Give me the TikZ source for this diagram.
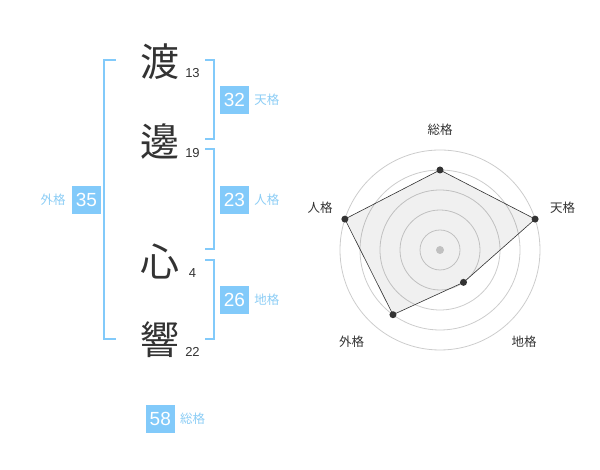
\documentclass[tikz,border=0pt]{standalone}
\usepackage{fontspec}
\setmainfont{Liberation Sans}
\newfontfamily\jpfont{Noto Sans CJK JP}
\usepackage{tikz}
\usetikzlibrary{positioning}
\definecolor{KakuBlue}{RGB}{130,202,250}
\definecolor{KakuText}{RGB}{140,205,245}
\definecolor{ChartInk}{RGB}{51,51,51}
\definecolor{RingGray}{RGB}{204,204,204}
\def\BoxW{29pt}
\def\BoxH{28pt}
\def\RingStep{20}

\begin{document}
\begin{tikzpicture}[x=1pt,y=1pt,
		kanji/.style={font=\jpfont\fontsize{39}{39}\selectfont,text=ChartInk,inner sep=0pt},
		strokes/.style={font=\fontsize{13}{13}\selectfont,text=ChartInk,inner sep=0pt},
		kakubox/.style={fill=KakuBlue,text=white,minimum width=\BoxW,minimum height=\BoxH,inner sep=0pt,font=\fontsize{19}{19}\selectfont},
		kakuname/.style={font=\jpfont\fontsize{12.5}{12.5}\selectfont,text=KakuText,inner sep=0pt},
		bracket/.style={draw=KakuBlue,line width=2pt},
		ring/.style={draw=RingGray,line width=0.8pt},
		axisname/.style={font=\jpfont\fontsize{12.5}{12.5}\selectfont,text=ChartInk,inner sep=0pt},
		vertexdot/.style={circle,fill=ChartInk,inner sep=0pt,minimum size=7pt}]
	\useasboundingbox (0,0) rectangle (600,470);
	% name column
	\node[kanji] (w1) at (160,408) {渡};
	\node[kanji] (w2) at (160,328) {邊};
	\node[kanji] (w3) at (160,208) {心};
	\node[kanji] (w4) at (160,130) {響};
	\foreach \w/\n in {w1/13,w2/19,w3/4,w4/22}
		\node[strokes] (\w n) at ([xshift=32.5pt,yshift=-11.5pt]\w.center) {\n};
	% brackets
	\draw[bracket] (115.7,410) -| (104.3,130.7) -- (115.7,130.7);
	\draw[bracket] (205,410) -| (214.3,330.7) -- (205,330.7);
	\draw[bracket] (205,321) -| (214.3,220.7) -- (205,220.7);
	\draw[bracket] (205,210) -| (214.3,130.7) -- (205,130.7);
	% kaku boxes
	\node[kakubox] (ten) at (234.5,370) {32};
	\node[kakuname,right=5pt of ten] (tenname) {天格};
	\node[kakubox] (jin) at (234.5,270) {23};
	\node[kakuname,right=5pt of jin] (jinname) {人格};
	\node[kakubox] (gai) at (86.5,270) {35};
	\node[kakuname,left=6pt of gai] (gainame) {外格};
	\node[kakubox] (chi) at (234.5,170) {26};
	\node[kakuname,right=5pt of chi] (chiname) {地格};
	\node[kakubox] (so) at (160.3,51) {58};
	\node[kakuname,right=5pt of so] (soname) {総格};
	% radar
	\begin{scope}[shift={(440,220)}]
		\foreach \r in {1,...,5}
			\draw[ring] (0,0) circle ({\r*\RingStep});
		\fill[RingGray] (0,0) circle (4);
		\foreach \a/\r/\nm/\lx/\ly/\lbl in {90/80/so/0/120/総格,18/100/ten/122.7/42/天格,-54/40/chi/84/-91.7/地格,-126/80/gai/-88.3/-91.7/外格,162/100/jin/-120/42/人格}{
			\coordinate (p\nm) at (\a:\r);
			\node[axisname] (l\nm) at (\lx,\ly) {\lbl};
		}
		\fill[black,opacity=0.06] (pso) -- (pten) -- (pchi) -- (pgai) -- (pjin) -- cycle;
		\draw[ChartInk,line width=0.6pt] (pso) -- (pten) -- (pchi) -- (pgai) -- (pjin) -- cycle;
		\foreach \nm in {so,ten,chi,gai,jin}
			\node[vertexdot] (d\nm) at (p\nm) {};
	\end{scope}
\end{tikzpicture}
\end{document}
